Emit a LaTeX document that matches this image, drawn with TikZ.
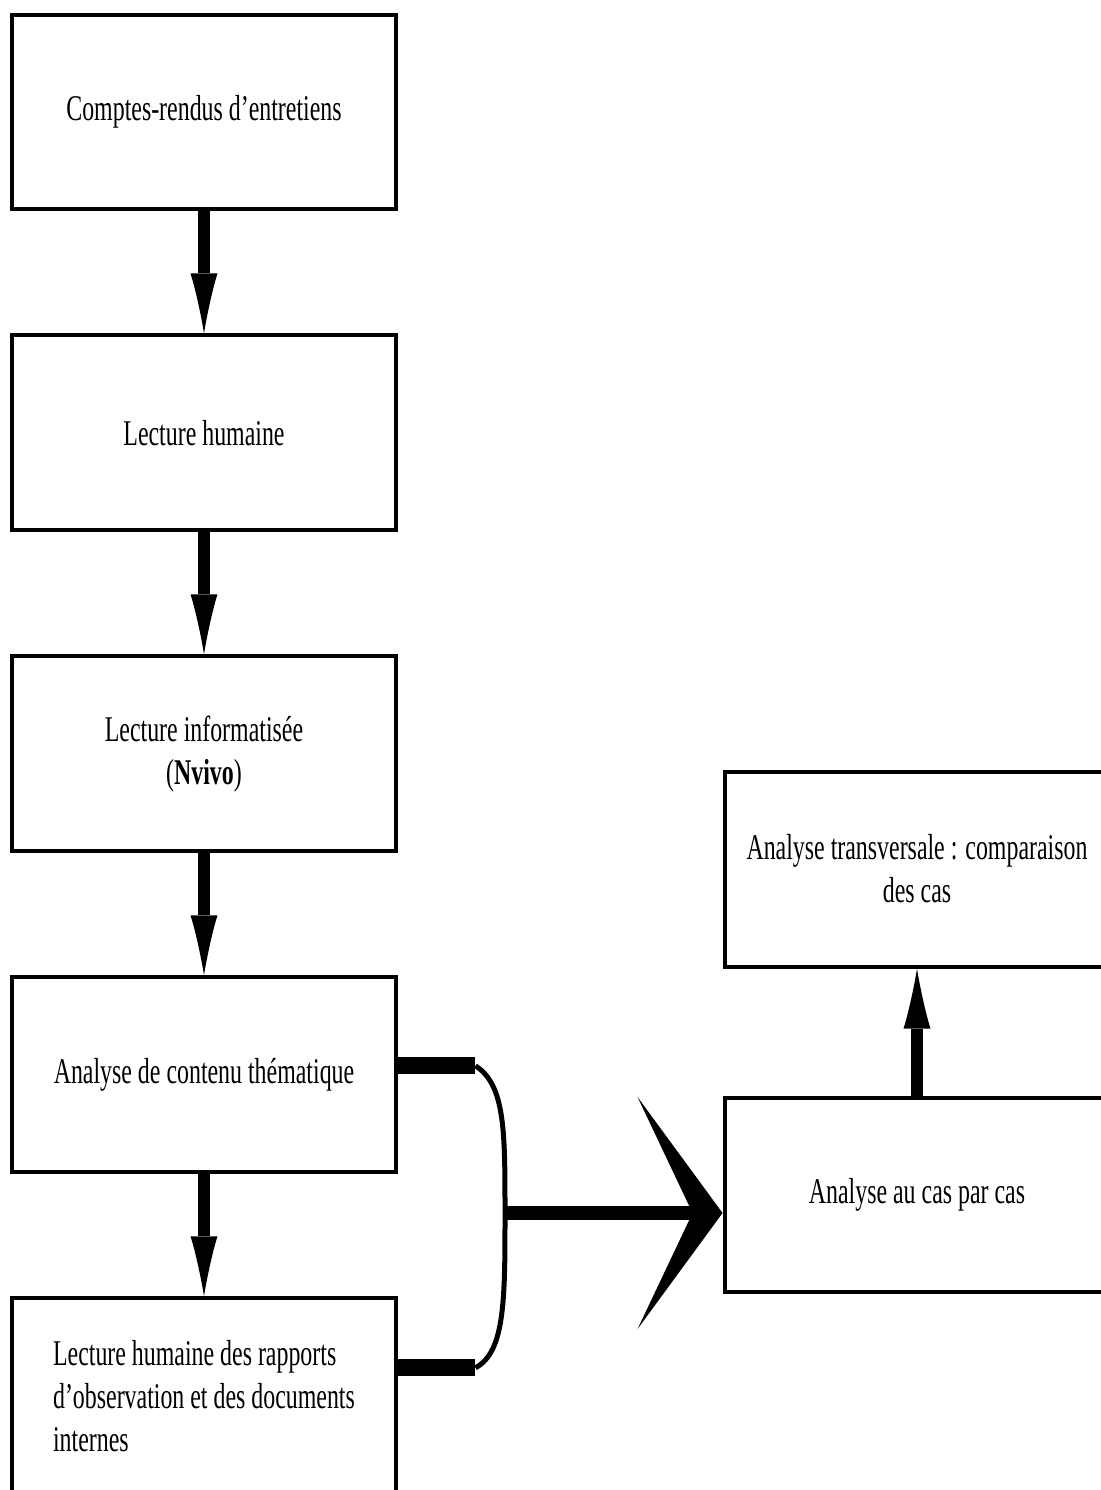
\documentclass[tikz,border=0pt]{standalone}
\usepackage{fontspec}
\setmainfont[FakeStretch=0.66]{Liberation Serif}
\usetikzlibrary{
    arrows.meta,
    positioning,
    calc
}

\begin{document}
\begin{tikzpicture}[
    x=0.02cm, y=-0.02cm,
    etape/.style={
        rectangle, draw, line width=0.08cm,
        minimum width=7.7cm, minimum height=3.9cm,
        align=center, font=\fontsize{20.6}{24.5}\selectfont
    },
    fleche/.style={
        line width=0.24cm,
        -{Latex[length=1.2cm, width=0.54cm, line width=0pt]}
    }
]

% Page
\clip (0,0) rectangle (1101,1490);

% Left column
\node[etape] (cr) at (204,112) {Comptes-rendus d’entretiens};
\node[etape, below=2.44cm of cr] (lh) {Lecture humaine};
\node[etape, below=2.44cm of lh] (li) {Lecture informatisée\\(\textbf{Nvivo})};
\node[etape, below=2.44cm of li] (act) {Analyse de contenu thématique};
\node[etape, below=2.44cm of act, align=left] (rap) {Lecture humaine des rapports\\d’observation et des documents\\internes};

% Right column
\node[etape] (cas) at (917,1195) {Analyse au cas par cas};
\node[etape, above=2.54cm of cas] (trans) {Analyse transversale : comparaison\\des cas};

% Arrows
\draw[fleche] (cr) -- (lh);
\draw[fleche] (lh) -- (li);
\draw[fleche] (li) -- (act);
\draw[fleche] (act) -- (rap);
\draw[fleche] (cas) -- (trans);

% Brace
\coordinate (haut) at ($(act.east)+(-3,-9)$);
\coordinate (bas) at ($(rap.east)+(-3,-28)$);
\coordinate (pointe) at (505,1213);
\draw[line width=0.34cm] (haut) -- ++(80,0) coordinate (h1);
\draw[line width=0.34cm] (bas) -- ++(80,0) coordinate (b1);
\draw[line width=0.1cm] (h1) .. controls (505,1085) and (505,1130) .. (pointe)
    .. controls (505,1300) and (505,1352) .. (b1);
\draw[line width=0.28cm, -{Stealth[length=1.7cm, width=4.64cm, inset=1.1cm, line width=0pt]}]
    (pointe) -- (pointe -| cas.west);

\end{tikzpicture}
\end{document}
